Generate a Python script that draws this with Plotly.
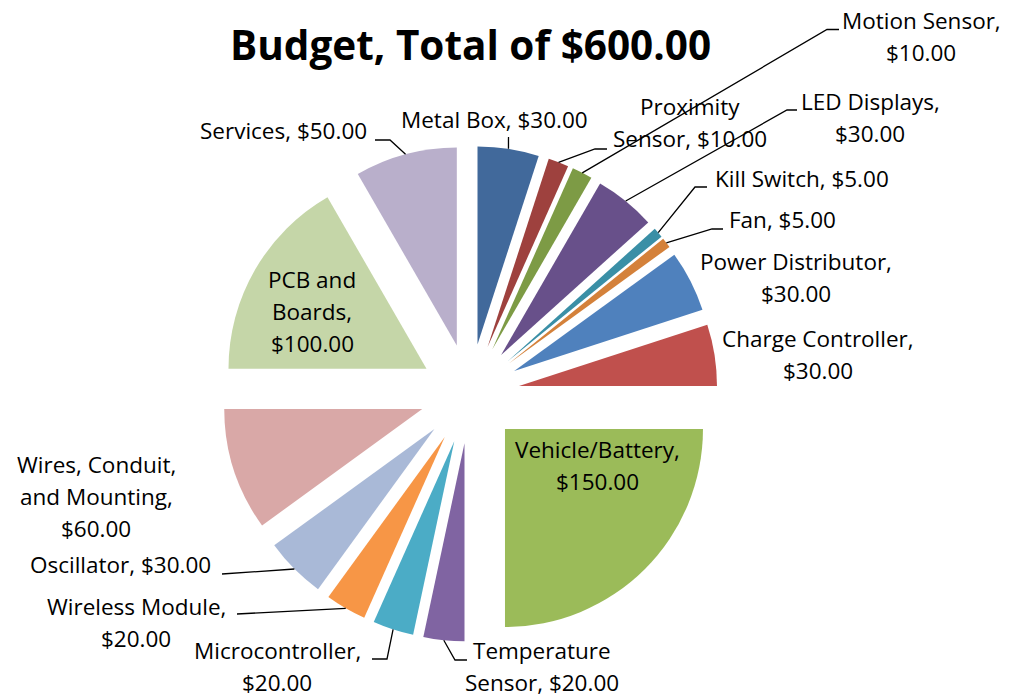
import math
import plotly.graph_objects as go

# ---- data -------------------------------------------------------------
categories = [
    "Metal Box", "Proximity Sensor", "Motion Sensor", "LED Displays",
    "Kill Switch", "Fan", "Power Distributor", "Charge Controller",
    "Vehicle/Battery", "Temperature Sensor", "Microcontroller",
    "Wireless Module", "Oscillator", "Wires, Conduit, and Mounting",
    "PCB and Boards", "Services",
]
amounts = [30, 10, 10, 30, 5, 5, 30, 30, 150, 20, 20, 20, 30, 60, 100, 50]

slice_colors = [
    "#41699B", "#9E413E", "#7D9B45", "#68508A", "#3A8FA6", "#D4813A",
    "#4F81BD", "#C0504D", "#9BBB59", "#8064A2", "#4BACC6", "#F79646",
    "#A9B9D7", "#D9A8A7", "#C5D6A8", "#B9AFCB",
]

# words per line when a data label is wrapped
line_words = [
    [4], [1, 2], [2, 1], [2, 1], [3], [2], [2, 1], [2, 1],
    [1, 1], [1, 2], [1, 1], [2, 1], [2], [2, 2, 1], [2, 1, 1], [2],
]

# ---- layout constants ---------------------------------------------------
W, H = 1012, 698
CX, CY = 469.7, 393.7       # pie centre (px)
R = 198.0                   # pie radius (px)
PULL = 0.252                # explode distance as fraction of radius
FONT = "Open Sans"
LABEL_SIZE = 22.5
TITLE_SIZE = 40.5
LINE_GAP = 32.3

# label centre x and first-line baseline (px)
label_pos = [
    (494, 128), (690, 115), (921, 29), (870, 110), (802, 187),
    (782, 228.5), (796, 270), (818, 347), (597, 458), (542, 659),
    (277, 659), (136, 615), (120, 573.5), (96, 473), (312, 288),
    (283, 139),
]

# leader-line waypoints after leaving the slice (px); None = no leader
leaders = [
    [(508.5, 137)],
    [(595, 149), (607, 149)],
    [(827, 29.5), (839, 29.5)],
    [(787, 110), (797, 110)],
    [(695, 187), (707, 187)],
    [(712, 229), (723, 229)],
    None, None, None,
    [(455, 660), (467, 660)],
    [(387, 659), (372, 659)],
    [(237, 614)],
    [(222, 574)],
    None, None,
    [(390, 140), (375, 140)],
]


def px(x, y):
    return x / W, 1 - y / H


total = sum(amounts)
outer = R * (1 + PULL)

fig = go.Figure(
    go.Pie(
        labels=categories,
        values=amounts,
        sort=False,
        direction="clockwise",
        rotation=0,
        pull=[PULL] * len(amounts),
        marker=dict(colors=slice_colors, line=dict(width=0)),
        textinfo="none",
        hovertemplate="%{label}: $%{value:.2f}<extra></extra>",
        showlegend=False,
        domain=dict(
            x=[(CX - outer) / W, (CX + outer) / W],
            y=[1 - (CY + outer) / H, 1 - (CY - outer) / H],
        ),
    )
)

annotations = []
shapes = []


def add_text(text, x, baseline, size, bold=False):
    cy = baseline - 0.388 * size
    xp, yp = px(x, cy)
    annotations.append(dict(
        text=f"<b>{text}</b>" if bold else text,
        x=xp, y=yp, xref="paper", yref="paper",
        xanchor="center", yanchor="middle", showarrow=False, borderpad=0,
        font=dict(family=FONT, size=size, color="#000000"),
    ))


cum = 0.0
for cat, val, words, (lx, ly), lead in zip(categories, amounts, line_words,
                                           label_pos, leaders):
    label = f"{cat}, ${val:.2f}".split(" ")
    lines, k = [], 0
    for n in words:
        lines.append(" ".join(label[k:k + n]))
        k += n
    for i, line in enumerate(lines):
        add_text(line, lx, ly + i * LINE_GAP, LABEL_SIZE)

    theta = 2 * math.pi * (cum + val / 2) / total
    if lead:
        sx = CX + outer * math.sin(theta)
        sy = CY - outer * math.cos(theta)
        pts = [(sx, sy)] + lead
        path = "M " + " L ".join(
            f"{px(x, y)[0]:.5f},{px(x, y)[1]:.5f}" for x, y in pts)
        shapes.append(dict(type="path", path=path, xref="paper", yref="paper",
                           line=dict(color="#000000", width=1.3)))
    cum += val

add_text(f"Budget, Total of ${total:.2f}", 470, 60, TITLE_SIZE, bold=True)

fig.update_layout(
    width=W, height=H,
    margin=dict(l=0, r=0, t=0, b=0),
    paper_bgcolor="#FFFFFF",
    plot_bgcolor="#FFFFFF",
    annotations=annotations,
    shapes=shapes,
)

fig.write_html("out.html")
